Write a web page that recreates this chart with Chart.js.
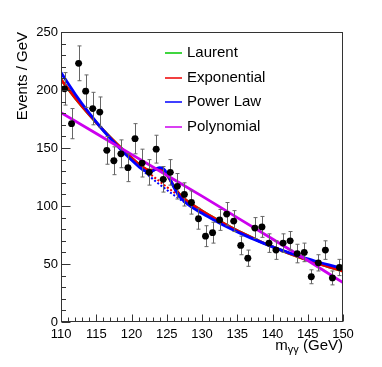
<!DOCTYPE html>
<html>
<head>
<meta charset="utf-8">
<script src="https://cdn.jsdelivr.net/npm/chart.js@4.4.1/dist/chart.umd.min.js"></script>
<style>
html,body{margin:0;padding:0;background:#fff;}
canvas{display:block;}
</style>
</head>
<body>
<canvas id="c" width="382" height="367"></canvas>
<script>
// ---- data ----
const massBins = [110.5,111.5,112.5,113.5,114.5,115.5,116.5,117.5,118.5,119.5,
                  120.5,121.5,122.5,123.5,124.5,125.5,126.5,127.5,128.5,129.5,
                  130.5,131.5,132.5,133.5,134.5,135.5,136.5,137.5,138.5,139.5,
                  140.5,141.5,142.5,143.5,144.5,145.5,146.5,147.5,148.5,149.5];
const events = [201,171,223,199,184,181,148,139,145,133,
                158,137,129,149,123,129,117,110,103,89,
                74,77,88,93,87,66,55,81,82,68,
                62,68,70,59,60,39,51,62,38,47];
const eventErrors = [14,13,15,14,14,13,12,12,12,12,
                     13,12,11,12,11,11,11,10,10,9,
                     9,9,9,10,9,8,7,9,9,8,
                     8,8,8,8,8,6,7,8,6,7];

const curveMass = [110,112,114,116,118,120,121,122,122.5,123,123.5,124,124.5,125,125.5,126,126.5,127,128,130,132,134,136,138,140,142,144,146,148,150];
const laurent     = [209,193.3,178.8,165.4,153.0,141.5,136.2,132.0,131.0,131.0,131.7,132.0,130.7,127.3,122.4,117.1,112.4,108.8,103.7,95.8,88.6,82.0,75.8,70.1,64.9,60.0,55.5,51.3,47.5,43.9];
const exponential = [209,193.3,178.8,165.4,153.0,141.5,136.2,132.0,131.0,131.0,131.7,132.0,130.7,127.3,122.4,117.1,112.4,108.8,103.7,95.8,88.6,82.0,75.8,70.1,64.9,60.0,55.5,51.3,47.5,43.9];
const powerLaw    = [215,196.6,180.0,165.1,151.7,139.6,134.1,130.0,129.4,130.2,132.0,133.1,132.2,128.5,122.7,116.3,110.9,106.8,101.3,93.7,86.9,80.6,74.9,69.7,64.8,60.4,56.4,52.6,49.2,46.0];

const bkgMass = [121.5,122,123,124,125,126,127,127.5];
const expBkg   = [133.5,130.9,125.9,121.1,116.4,112.0,107.7,105.6];
const powerBkg = [131.2,128.5,123.4,118.5,113.9,109.5,105.3,103.2];

const polyMass = [110,115,120,125,130,135,140,145,150];
const polynomial = [180.5,162.5,144.5,126.5,108.5,90,71.5,53,34];

const xTicks = [110,115,120,125,130,135,140,145,150];
const yTicks = [0,50,100,150,200,250];

const legendNames = ['Laurent','Exponential','Power Law','Polynomial'];
const legendColors = ['#00c800','#ee0000','#0000ff','#cc00ee'];

// ---- build datasets ----
const pts = (xs, ys) => xs.map((x,i)=>({x:x, y:ys[i]}));
const FONT = "'Liberation Sans', Arial, Helvetica, sans-serif";

function curve(xs, ys, color, order, dashed){
  return {
    data: pts(xs, ys), showLine: true, pointRadius: 0, borderColor: color,
    borderWidth: dashed ? 2 : 2.8, borderDash: dashed ? [2,2] : [],
    cubicInterpolationMode: 'monotone', fill: false, order: order
  };
}

const datasets = [
  { data: pts(massBins, events), showLine:false, pointRadius:3.4, pointBackgroundColor:'#000',
    pointBorderColor:'#000', pointBorderWidth:0, order:0, errors: eventErrors },
  curve(polyMass, polynomial, legendColors[3], 1),
  curve(curveMass, powerLaw, legendColors[2], 2),
  curve(curveMass, exponential, legendColors[1], 3),
  curve(curveMass, laurent, legendColors[0], 4),
  curve(bkgMass, powerBkg, legendColors[2], 5, true),
  curve(bkgMass, expBkg, legendColors[1], 6, true)
];

const rootStyle = {
  id: 'rootStyle',
  beforeDatasetDraw(chart, args){
    if (args.index !== 0) return;
    const ctx = chart.ctx, xs = chart.scales.x, ys = chart.scales.y;
    const ds = chart.data.datasets[0];
    ctx.save();
    ctx.lineWidth = 1;
    ds.data.forEach((p,i)=>{
      const e = ds.errors[i];
      const px = Math.round(xs.getPixelForValue(p.x)) + 0.5;
      const py = ys.getPixelForValue(p.y);
      const yt = ys.getPixelForValue(p.y + e), yb = ys.getPixelForValue(p.y - e);
      ctx.strokeStyle = '#666';
      ctx.beginPath();
      ctx.moveTo(px, yt); ctx.lineTo(px, yb);
      ctx.moveTo(px-2, yt); ctx.lineTo(px+2, yt);
      ctx.moveTo(px-2, yb); ctx.lineTo(px+2, yb);
      ctx.stroke();
      ctx.strokeStyle = '#222';
      ctx.beginPath();
      ctx.moveTo(xs.getPixelForValue(p.x-0.5), py); ctx.lineTo(xs.getPixelForValue(p.x+0.5), py);
      ctx.stroke();
    });
    ctx.restore();
  },
  afterDraw(chart){
    const ctx = chart.ctx, a = chart.chartArea, xs = chart.scales.x, ys = chart.scales.y;
    ctx.save();
    // frame
    ctx.strokeStyle = '#333'; ctx.lineWidth = 1;
    const L = Math.round(a.left)+0.5, R = Math.round(a.right)-0.5, T = Math.round(a.top)+0.5, B = Math.round(a.bottom)-0.5;
    ctx.strokeRect(L, T, R-L, B-T);
    // inner ticks
    ctx.beginPath();
    for (let v = 0; v <= 250; v += 10){
      const y = Math.round(ys.getPixelForValue(v)) + 0.5;
      const len = (v % 50 === 0) ? 9 : 4.5;
      ctx.moveTo(L, y); ctx.lineTo(L+len, y);
    }
    for (let v = 110; v <= 150; v += 1){
      const x = Math.round(xs.getPixelForValue(v)) + 0.5;
      const len = (v % 5 === 0) ? 7 : 4;
      ctx.moveTo(x, B); ctx.lineTo(x, B-len);
    }
    ctx.stroke();
    // y title
    ctx.fillStyle = '#000';
    ctx.font = '15px ' + FONT;
    ctx.save();
    ctx.translate(22.5, a.top);
    ctx.rotate(-Math.PI/2);
    ctx.textAlign = 'right'; ctx.textBaseline = 'middle';
    ctx.fillText('Events / GeV', 0, 0);
    ctx.restore();
    // x title: m_{γγ} (GeV)
    ctx.textBaseline = 'alphabetic'; ctx.textAlign = 'left';
    const big = '15px ' + FONT, small = '11px ' + FONT;
    ctx.font = big; const wm = ctx.measureText('m').width, wg = ctx.measureText(' (GeV)').width;
    ctx.font = small; const ws = ctx.measureText('γγ').width;
    let x0 = a.right - (wm + ws + wg);
    const base = 350;
    ctx.font = big; ctx.fillText('m', x0, base); x0 += wm;
    ctx.font = small; ctx.fillText('γγ', x0, base + 3); x0 += ws;
    ctx.font = big; ctx.fillText(' (GeV)', x0, base);
    // legend
    const rows = [53, 78, 102, 127];
    ctx.font = '15px ' + FONT; ctx.textBaseline = 'middle';
    legendNames.forEach((n,i)=>{
      ctx.strokeStyle = legendColors[i]; ctx.lineWidth = 1.5;
      ctx.beginPath(); ctx.moveTo(165, rows[i]); ctx.lineTo(182, rows[i]); ctx.stroke();
      ctx.fillStyle = '#000';
      ctx.fillText(n, 187, rows[i]);
    });
    ctx.restore();
  }
};

new Chart(document.getElementById('c'), {
  type: 'scatter',
  data: { datasets },
  options: {
    responsive: false, animation: false, devicePixelRatio: 1,
    layout: { padding: { left: 0, right: 39, top: 32, bottom: 0 } },
    plugins: { legend: { display: false }, tooltip: { enabled: false } },
    scales: {
      x: {
        type: 'linear', min: 110, max: 150,
        afterFit(s){ s.height = 45; },
        afterBuildTicks(s){ s.ticks = xTicks.map(v=>({value:v})); },
        grid: { display: false, drawTicks: false }, border: { display: false },
        ticks: { padding: 5, maxRotation: 0, autoSkip: false, color: '#000', font: { family: FONT, size: 13 } }
      },
      y: {
        type: 'linear', min: 0, max: 250,
        afterFit(s){ s.width = 61; },
        afterBuildTicks(s){ s.ticks = yTicks.map(v=>({value:v})); },
        grid: { display: false, drawTicks: false }, border: { display: false },
        ticks: { padding: 3, color: '#000', font: { family: FONT, size: 13 } }
      }
    }
  },
  plugins: [rootStyle]
});
</script>
</body>
</html>
